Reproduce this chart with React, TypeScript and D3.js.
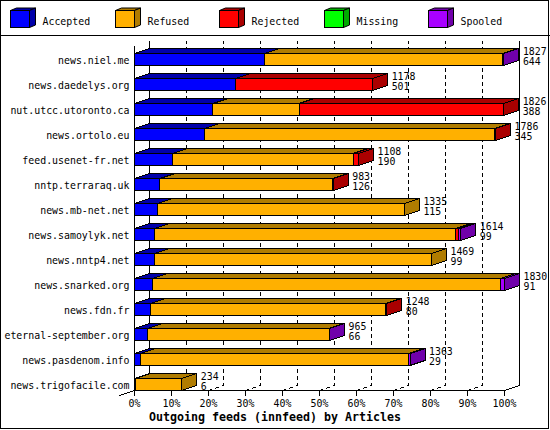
import React from "react";
import * as d3 from "d3";

const hosts = [
  "news.niel.me",
  "news.daedelys.org",
  "nut.utcc.utoronto.ca",
  "news.ortolo.eu",
  "feed.usenet-fr.net",
  "nntp.terraraq.uk",
  "news.mb-net.net",
  "news.samoylyk.net",
  "news.nntp4.net",
  "news.snarked.org",
  "news.fdn.fr",
  "eternal-september.org",
  "news.pasdenom.info",
  "news.trigofacile.com",
];
const accepted = [644, 501, 388, 345, 190, 126, 115, 99, 99, 91, 80, 66, 29, 6];
const refused = [1176, 0, 426, 1437, 891, 853, 1220, 1487, 1370, 1719, 1163, 896, 1326, 228];
const rejected = [0, 677, 1012, 4, 27, 4, 0, 18, 0, 0, 5, 0, 0, 0];
const missing = [0, 0, 0, 0, 0, 0, 0, 0, 0, 0, 0, 0, 0, 0];
const spooled = [7, 0, 0, 0, 0, 0, 0, 10, 0, 20, 0, 3, 8, 0];
const offered = [1827, 1178, 1826, 1786, 1108, 983, 1335, 1614, 1469, 1830, 1248, 965, 1363, 234];

const seriesNames = ["Accepted", "Refused", "Rejected", "Missing", "Spooled"];
const seriesColors = ["#0000FF", "#FFB000", "#FF0000", "#00FF00", "#A800FF"];
const seriesShades = ["#0000AA", "#B07C00", "#AA0000", "#00AA00", "#7000AA"];
const percentTicks = [0, 10, 20, 30, 40, 50, 60, 70, 80, 90, 100];
const title = "Outgoing feeds (innfeed) by Articles";

const W = 550;
const H = 430;
const DX = 15;
const DY = 5;
const FONT = "DejaVu Sans Mono";

function T({ x, y, anchor = "start", size = 11, sx = 0.9, bold = false, children }: any) {
  return (
    <text
      transform={`translate(${x},${y}) scale(${sx},1)`}
      textAnchor={anchor}
      fontFamily={FONT}
      fontSize={size}
      fontWeight={bold ? "bold" : "normal"}
      fill="#000"
    >
      {children}
    </text>
  );
}

export default function App() {
  const table = hosts.map((h, i) => ({
    host: h,
    Accepted: accepted[i],
    Refused: refused[i],
    Rejected: rejected[i],
    Missing: missing[i],
    Spooled: spooled[i],
  }));
  const stack = d3.stack<any>().keys(seriesNames)(table);
  const maxTotal = d3.max(offered) as number;
  const x = d3.scaleLinear().domain([0, maxTotal]).range([134.5, 504.5]);
  const pct = d3.scaleLinear().domain([0, 100]).range([134.5, 504.5]);
  const y = d3.scaleBand<string>().domain(hosts).range([41, 391]);

  const floorY = 390.5;
  const backTop = 40.5;

  const legendX = d3.scaleLinear().domain([0, 1]).range([10, 114.5]);

  return (
    <svg
      width={W}
      height={H}
      style={{ position: "absolute", left: 0, top: 0, display: "block" }}
    >
      <rect x={0.5} y={0.5} width={W - 2} height={H - 2} fill="#fff" stroke="#000" />
      {/* legend */}
      <line x1={0} x2={W} y1={35.5} y2={35.5} stroke="#000" shapeRendering="crispEdges" />
      {seriesNames.map((name, k) => {
        const lx = Math.round(legendX(k)) + 0.5;
        const ly = 10.5;
        const w = 19;
        const h = 17;
        const dx = 6;
        const dy = 2.5;
        return (
          <g key={name}>
            <polygon
              points={`${lx},${ly} ${lx + dx},${ly - dy} ${lx + w + dx},${ly - dy} ${lx + w},${ly}`}
              fill={seriesShades[k]}
              stroke="#000"
            />
            <polygon
              points={`${lx + w},${ly} ${lx + w + dx},${ly - dy} ${lx + w + dx},${ly + h - dy} ${lx + w},${ly + h}`}
              fill={seriesShades[k]}
              stroke="#000"
            />
            <rect x={lx} y={ly} width={w} height={h} fill={seriesColors[k]} stroke="#000" />
            <T x={lx + 32} y={24.5}>{name}</T>
          </g>
        );
      })}

      {/* grid: floor diagonals + back wall verticals */}
      {percentTicks.map((t) => {
        const fx = pct(t);
        const inner = t > 0 && t < 100;
        return (
          <g key={t}>
            <polyline
              points={`${fx},${floorY} ${fx + DX},${floorY - DY} ${fx + DX},${backTop}`}
              fill="none"
              stroke="#000"
              strokeDasharray={inner ? "4,3" : undefined}
              shapeRendering="crispEdges"
            />
            <line x1={fx} x2={fx} y1={floorY} y2={floorY + 5} stroke="#000" shapeRendering="crispEdges" />
            <T x={fx} y={406.5} anchor="middle">{`${t}%`}</T>
          </g>
        );
      })}
      {/* front axes */}
      <line x1={pct(0)} x2={pct(0)} y1={46} y2={floorY} stroke="#000" shapeRendering="crispEdges" />
      <line x1={pct(0)} x2={pct(100)} y1={floorY} y2={floorY} stroke="#000" shapeRendering="crispEdges" />
      <line x1={pct(0)} x2={pct(0) - DX} y1={floorY} y2={floorY + DY} stroke="#000" shapeRendering="crispEdges" />

      {/* bars */}
      {hosts.map((h, i) => {
        const top = (y(h) as number) + 12.5;
        const bottom = top + 12;
        let last = -1;
        stack.forEach((s, k) => {
          if (s[i][1] - s[i][0] > 0) last = k;
        });
        const end = x(offered[i]);
        const lastEnd = x(stack[last][i][1]);
        return (
          <g key={h}>
            {stack.map((s, k) => {
              const v0 = s[i][0];
              const v1 = s[i][1];
              if (v1 - v0 <= 0) return null;
              const xa = x(v0);
              const xb = x(v1);
              return (
                <g key={k}>
                  <polygon
                    points={`${xa},${top} ${xa + DX},${top - DY} ${xb + DX},${top - DY} ${xb},${top}`}
                    fill={seriesShades[k]}
                    stroke="#000"
                    shapeRendering="crispEdges"
                  />
                  <rect
                    x={xa}
                    y={top}
                    width={xb - xa}
                    height={bottom - top}
                    fill={seriesColors[k]}
                    stroke="#000"
                    shapeRendering="crispEdges"
                  />
                </g>
              );
            })}
            <polygon
              points={`${lastEnd},${top} ${lastEnd + DX},${top - DY} ${lastEnd + DX},${bottom - DY} ${lastEnd},${bottom}`}
              fill={seriesShades[last]}
              stroke="#000"
              shapeRendering="crispEdges"
            />
            <T x={129.5} y={bottom - 1.5} anchor="end">{h}</T>
            <T x={end + 19} y={bottom - 11} size={10.5} sx={0.94}>{String(offered[i])}</T>
            <T x={end + 19} y={bottom - 0.5} size={10.5} sx={0.94}>{String(accepted[i])}</T>
          </g>
        );
      })}

      <T x={275} y={420.5} anchor="middle" size={12} sx={0.97} bold>
        {title}
      </T>
    </svg>
  );
}
